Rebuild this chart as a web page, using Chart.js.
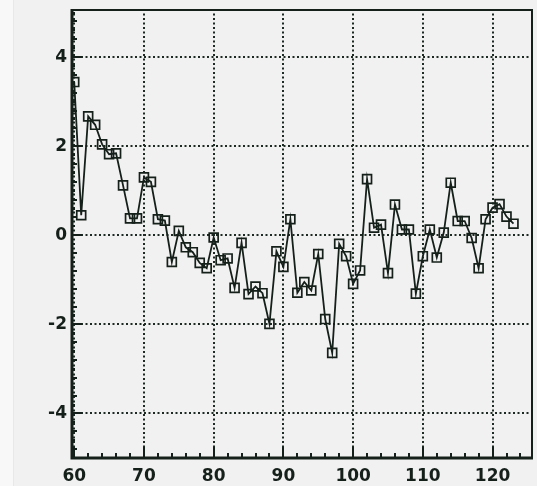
<!DOCTYPE html>
<html>
<head>
<meta charset="utf-8">
<script src="https://cdn.jsdelivr.net/npm/chart.js@4.4.1/dist/chart.umd.min.js"></script>
<style>
  html, body { margin: 0; padding: 0; background: #f1f1f1; }
  canvas { display: block; }
</style>
</head>
<body>
<canvas id="c" width="537" height="486"></canvas>
<script>
// Run numbers and the measured residual for each run
const runNumbers = [
  60, 61, 62, 63, 64, 65, 66, 67, 68, 69,
  70, 71, 72, 73, 74, 75, 76, 77, 78, 79,
  80, 81, 82, 83, 84, 85, 86, 87, 88, 89,
  90, 91, 92, 93, 94, 95, 96, 97, 98, 99,
  100, 101, 102, 103, 104, 105, 106, 107, 108, 109,
  110, 111, 112, 113, 114, 115, 116, 117, 118, 119,
  120, 121, 122, 123
];
const residuals = [
  3.44, 0.45, 2.67, 2.48, 2.04, 1.82, 1.84, 1.12, 0.38, 0.38,
  1.30, 1.20, 0.36, 0.33, -0.60, 0.10, -0.27, -0.38, -0.62, -0.74,
  -0.05, -0.56, -0.52, -1.18, -0.17, -1.32, -1.15, -1.30, -1.99, -0.36,
  -0.71, 0.36, -1.29, -1.05, -1.24, -0.42, -1.88, -2.64, -0.19, -0.47,
  -1.09, -0.79, 1.26, 0.17, 0.24, -0.85, 0.69, 0.13, 0.13, -1.31,
  -0.47, 0.13, -0.50, 0.06, 1.18, 0.32, 0.32, -0.06, -0.74, 0.36,
  0.62, 0.70, 0.42, 0.26
];

// Axis labels
const xTickValues = [60, 70, 80, 90, 100, 110, 120];
const yTickValues = [-4, -2, 0, 2, 4];

const ink = '#16201b';
const gridInk = '#1d2a23';
const labelFont = { family: 'DejaVu Sans', size: 17, weight: 'bold' };

// Keep the plot box fixed: no extra room reserved for edge labels
function noEdgePadding(s) {
  s.paddingTop = 0; s.paddingBottom = 0; s.paddingLeft = 0; s.paddingRight = 0;
}

// Page background with a lighter strip along the left edge
const backdrop = {
  id: 'backdrop',
  beforeDraw(chart) {
    const ctx = chart.ctx;
    ctx.save();
    ctx.fillStyle = '#f1f1f1';
    ctx.fillRect(0, 0, chart.width, chart.height);
    ctx.fillStyle = '#f8f8f8';
    ctx.fillRect(0, 0, 13, chart.height);
    ctx.fillStyle = '#e8e8e8';
    ctx.fillRect(13, 0, 1, chart.height);
    ctx.restore();
  }
};

// Frame around the plot with inward major and minor ticks
const frameAndTicks = {
  id: 'frameAndTicks',
  afterDraw(chart) {
    const { ctx, chartArea: a, scales: { x, y } } = chart;
    ctx.save();
    ctx.strokeStyle = ink;
    ctx.lineCap = 'butt';

    // inward ticks on the bottom axis
    ctx.lineWidth = 2;
    ctx.beginPath();
    for (let v = 60; v <= 124; v += 2) {
      const px = Math.round(x.getPixelForValue(v));
      const len = (v % 10 === 0) ? 11 : 5;
      ctx.moveTo(px, a.bottom);
      ctx.lineTo(px, a.bottom - len);
    }
    // inward ticks on the left axis
    for (let i = -25; i <= 25; i++) {
      const v = i * 0.2;
      const py = Math.round(y.getPixelForValue(v));
      const major = (i % 10 === 0);
      const len = major ? 10 : (i % 2 === 0 ? 5 : 3);
      ctx.moveTo(a.left, py);
      ctx.lineTo(a.left + len, py);
    }
    ctx.stroke();

    // frame: heavier on the left and bottom
    ctx.lineWidth = 2;
    ctx.beginPath();
    ctx.moveTo(a.left, a.top + 1);
    ctx.lineTo(a.right - 1, a.top + 1);
    ctx.lineTo(a.right - 1, a.bottom);
    ctx.stroke();
    ctx.lineWidth = 3;
    ctx.beginPath();
    ctx.moveTo(a.left, a.top);
    ctx.lineTo(a.left, a.bottom);
    ctx.lineTo(a.right, a.bottom);
    ctx.stroke();
    ctx.restore();
  }
};

new Chart(document.getElementById('c'), {
  type: 'line',
  data: {
    datasets: [{
      data: runNumbers.map((r, i) => ({ x: r, y: residuals[i] })),
      borderColor: ink,
      borderWidth: 1.8,
      tension: 0,
      fill: false,
      pointStyle: 'rect',
      pointRadius: 6.3,
      pointBorderWidth: 1.7,
      pointBorderColor: ink,
      pointBackgroundColor: 'rgba(0,0,0,0)'
    }]
  },
  options: {
    responsive: false,
    animation: false,
    events: [],
    layout: { autoPadding: false, padding: { top: 9, right: 4, left: 0, bottom: 0 } },
    plugins: { legend: { display: false }, tooltip: { enabled: false } },
    scales: {
      x: {
        type: 'linear',
        min: 59.68,
        max: 125.8,
        afterBuildTicks: s => { s.ticks = xTickValues.map(v => ({ value: v })); },
        afterFit: s => { s.height = 28; noEdgePadding(s); },
        grid: { color: gridInk, lineWidth: 2, drawTicks: false },
        border: { display: false, dash: [2, 2.5] },
        ticks: { font: labelFont, color: ink, padding: 8, maxRotation: 0, autoSkip: false }
      },
      y: {
        type: 'linear',
        min: -5,
        max: 5.08,
        afterBuildTicks: s => { s.ticks = yTickValues.map(v => ({ value: v })); },
        afterFit: s => { s.width = 72; noEdgePadding(s); },
        grid: { color: gridInk, lineWidth: 2, drawTicks: false },
        border: { display: false, dash: [2, 2.5] },
        ticks: { font: labelFont, color: ink, padding: 5 }
      }
    }
  },
  plugins: [backdrop, frameAndTicks]
});
</script>
</body>
</html>
